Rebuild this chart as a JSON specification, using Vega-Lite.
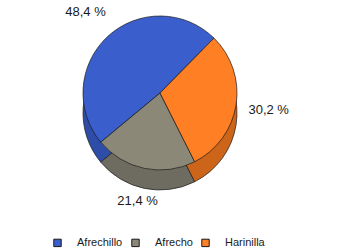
{
  "$schema": "https://vega.github.io/schema/vega-lite/v6.json",
  "width": 320,
  "height": 186,
  "autosize": {"type": "none"},
  "padding": {"left": 0, "top": 0, "right": 39, "bottom": 65},
  "background": "white",
  "config": {"view": {"stroke": null}},
  "data": {
    "values": [
      {"categoria": "Afrechillo", "porcentaje": 48.4},
      {"categoria": "Afrecho", "porcentaje": 21.4},
      {"categoria": "Harinilla", "porcentaje": 30.2}
    ]
  },
  "transform": [
    {"calculate": "replace(format(datum.porcentaje, '.1f'), '.', ',') + ' %'", "as": "etiqueta"}
  ],
  "encoding": {
    "theta": {"field": "porcentaje", "type": "quantitative", "stack": true, "scale": {"range": [0.777, 7.060]}},
    "order": {"field": "categoria", "sort": "descending"}
  },
  "layer": [
    {
      "mark": {"type": "arc", "outerRadius": 77, "yOffset": 20, "stroke": "#1a1a1a", "strokeWidth": 0.7},
      "encoding": {
        "color": {"field": "categoria", "type": "nominal", "legend": null,
          "scale": {"domain": ["Afrechillo", "Afrecho", "Harinilla"], "range": ["#2E4DA8", "#6E6C60", "#CC6519"]}}
      }
    },
    {
      "mark": {"type": "arc", "outerRadius": 77, "stroke": "#1a1a1a", "strokeWidth": 0.7},
      "encoding": {
        "color": {"field": "categoria", "type": "nominal",
          "scale": {"domain": ["Afrechillo", "Afrecho", "Harinilla"], "range": ["#3A5FCD", "#8B8878", "#FF7F24"]},
          "legend": {
            "title": null, "orient": "none", "legendX": 52, "legendY": 237,
            "direction": "horizontal", "symbolType": "square", "symbolSize": 55,
            "symbolStrokeColor": "#1a1a1a", "symbolStrokeWidth": 1,
            "labelFont": "Liberation Sans", "labelFontSize": 11, "labelColor": "#1a1a1a",
            "labelOffset": 14, "columnPadding": 6
          }
        }
      }
    },
    {
      "mark": {"type": "text", "radius": 110, "font": "Liberation Sans", "fontSize": 13, "color": "#1a1a1a"},
      "encoding": {"text": {"field": "etiqueta", "type": "nominal"}}
    }
  ],
  "resolve": {"scale": {"color": "independent"}}
}
